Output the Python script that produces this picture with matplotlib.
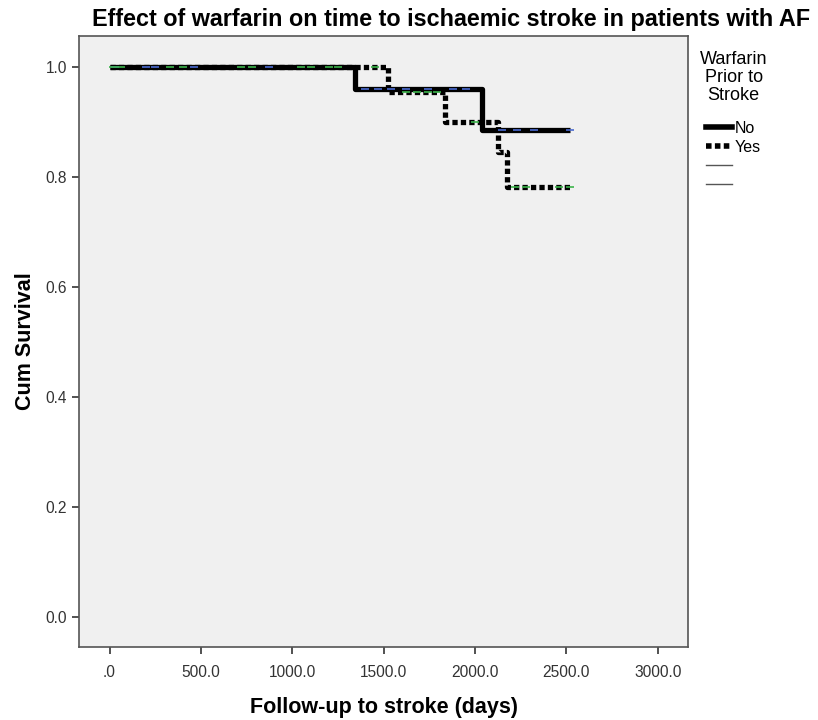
import matplotlib
matplotlib.use('Agg')
import matplotlib.pyplot as plt
from matplotlib.lines import Line2D

plt.rcParams['font.family'] = ['Liberation Sans', 'DejaVu Sans']

# Kaplan-Meier steps (time in days, cumulative survival)
no_times = [0, 1343, 2037, 2520]
no_surv = [1.0, 0.959, 0.885, 0.885]
yes_times = [0, 1523, 1836, 2126, 2173, 2520]
yes_surv = [1.0, 0.955, 0.900, 0.845, 0.782, 0.782]

# censored observations
no_cens_t = [30, 200, 250, 460, 870, 1400, 1470, 1540, 1620, 1740, 1880, 1950, 2150, 2230, 2320, 2520]
no_cens_s = [1.0] * 5 + [0.959] * 7 + [0.885] * 4
yes_cens_t = [20, 60, 330, 400, 720, 780, 1050, 1100, 1200, 1250, 1450, 1620, 1680, 1740, 1790, 2000, 2220, 2280, 2460, 2520]
yes_cens_s = [1.0] * 11 + [0.955] * 4 + [0.900] + [0.782] * 4

xticks = [0, 500, 1000, 1500, 2000, 2500, 3000]
xtick_labels = ['.0', '500.0', '1000.0', '1500.0', '2000.0', '2500.0', '3000.0']
yticks = [0.0, 0.2, 0.4, 0.6, 0.8, 1.0]
ytick_labels = ['0.0', '0.2', '0.4', '0.6', '0.8', '1.0']

fig = plt.figure(figsize=(8.18, 7.2), dpi=100)
ax = fig.add_axes([0.0966, 0.1014, 0.7446, 0.8486])
ax.set_facecolor('#f0f0f0')

ax.step(no_times, no_surv, where='post', color='black', lw=3.8,
        solid_capstyle='butt', zorder=3)
ax.step(yes_times, yes_surv, where='post', color='black', lw=3.8,
        linestyle=(0, (1.0, 0.6)), dash_capstyle='butt', zorder=4)

ax.plot(no_cens_t, no_cens_s, linestyle='none', marker='_', ms=6, mew=1.2,
        color='#4a6ad0', zorder=5)
ax.plot(yes_cens_t, yes_cens_s, linestyle='none', marker='_', ms=6, mew=1.2,
        color='#3cb44b', zorder=5)

ax.set_xlim(-167, 3166)
ax.set_ylim(-0.0545, 1.056)
ax.set_xticks(xticks)
ax.set_xticklabels(xtick_labels)
ax.set_yticks(yticks)
ax.set_yticklabels(ytick_labels)
ax.tick_params(axis='both', colors='#333333', labelsize=11.2, length=5, width=1.2)
ax.tick_params(axis='x', pad=8)
for side in ['left', 'bottom', 'right', 'top']:
    ax.spines[side].set_color('#555555')
    ax.spines[side].set_linewidth(1.2)

ax.set_xlabel('Follow-up to stroke (days)', fontsize=15.5, fontweight='bold', labelpad=12)
ax.set_ylabel('Cum Survival', fontsize=15.5, fontweight='bold', labelpad=7)
ax.set_title('Effect of warfarin on time to ischaemic stroke in patients with AF',
             fontsize=16.8, fontweight='bold', loc='left', x=0.022, pad=7)

handles = [
    Line2D([], [], color='black', lw=4),
    Line2D([], [], color='black', lw=4, linestyle=(0, (1.0, 0.6))),
    Line2D([], [], color='#555555', lw=1),
    Line2D([], [], color='#555555', lw=1),
]
labels = ['No', 'Yes', '', '']
leg = fig.legend(handles, labels, title='Warfarin\nPrior to\nStroke', loc='upper left',
                 bbox_to_anchor=(0.842, 0.945), frameon=False, fontsize=11.5,
                 title_fontsize=13, handlelength=1.6, handletextpad=0.2,
                 labelspacing=0.25, borderpad=0.2)
leg.get_title().set_multialignment('center')
leg.get_title().set_linespacing(1.1)
leg._legend_box.sep = 12

fig.savefig('out.png', dpi=100)
